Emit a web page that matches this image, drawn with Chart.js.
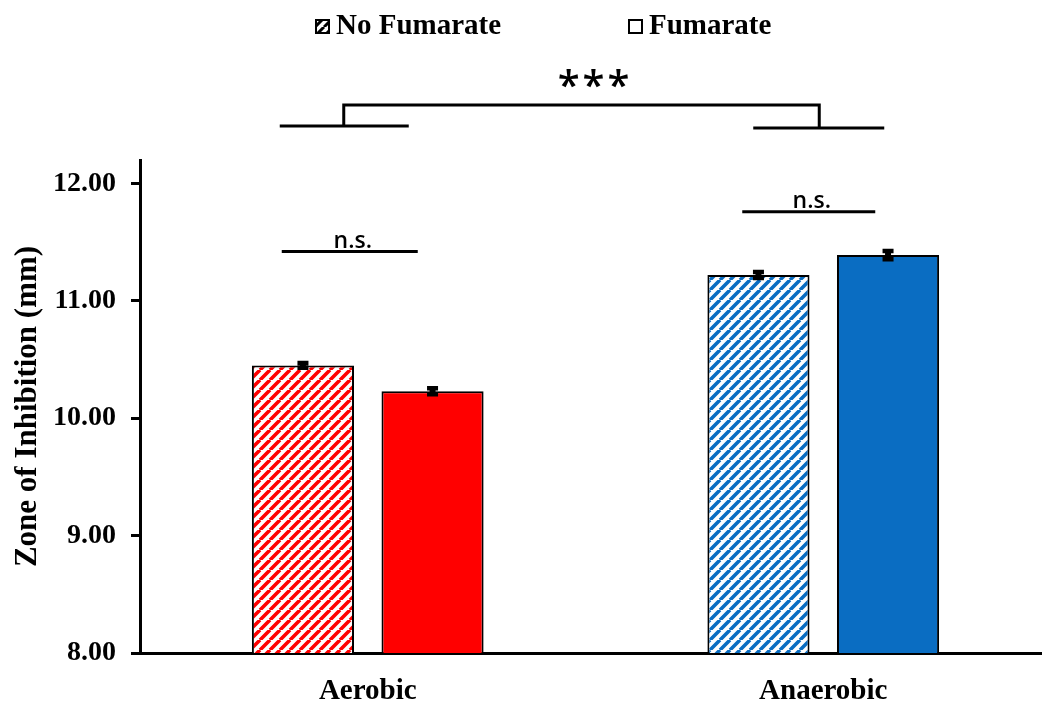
<!DOCTYPE html>
<html>
<head>
<meta charset="utf-8">
<script src="https://cdn.jsdelivr.net/npm/chart.js@4.4.0/dist/chart.umd.min.js"></script>
<style>
  html, body { margin: 0; padding: 0; background: #fff; overflow: hidden; }
  #wrap { width: 1042px; height: 704px; overflow: hidden; }
</style>
</head>
<body>
<div id="wrap"><canvas id="chart" width="1052" height="704"></canvas></div>
<script>
// datos del gráfico
const categories = ['Aerobic', 'Anaerobic'];
const seriesNames = ['No Fumarate', 'Fumarate'];
const noFumarate = [10.45, 11.22];
const fumarate = [10.23, 11.39];
const noFumarateErr = [0.02, 0.025];
const fumarateErr = [0.025, 0.035];
const yTicks = [8, 9, 10, 11, 12];

const RED = '#FF0000';
const BLUE = '#0A6DC2';

// patrón de rayas diagonales
function stripes(color, size, width) {
    const c = document.createElement('canvas');
    c.width = size; c.height = size;
    const g = c.getContext('2d');
    g.fillStyle = '#fff';
    g.fillRect(0, 0, size, size);
    g.strokeStyle = color;
    g.lineWidth = width;
    g.beginPath();
    for (const x0 of [-size, 0, size]) {
        g.moveTo(x0, size);
        g.lineTo(x0 + size, 0);
    }
    g.stroke();
    return g.createPattern(c, 'repeat');
}

const ctx = document.getElementById('chart').getContext('2d');
const redHatch = stripes(RED, 10, 3.6);
const blueHatch = stripes(BLUE, 10, 3.6);
const blackHatch = stripes('#000', 9, 3);

// barras de error
const errorBars = {
    id: 'errorBars',
    afterDatasetsDraw(chart) {
        const y = chart.scales.y;
        const c = chart.ctx;
        c.save();
        c.strokeStyle = '#000';
        chart.data.datasets.forEach((ds, di) => {
            const meta = chart.getDatasetMeta(di);
            meta.data.forEach((bar, i) => {
                const v = ds.data[i], e = ds.errors[i];
                const top = y.getPixelForValue(v + e);
                const bot = y.getPixelForValue(v - e);
                c.lineWidth = 6;
                c.beginPath();
                c.moveTo(bar.x, top); c.lineTo(bar.x, bot);
                c.stroke();
                c.lineWidth = 4.5;
                c.beginPath();
                c.moveTo(bar.x - 5.5, top); c.lineTo(bar.x + 5.5, top);
                c.moveTo(bar.x - 5.5, bot); c.lineTo(bar.x + 5.5, bot);
                c.stroke();
            });
        });
        c.restore();
    }
};

// leyenda, corchetes y textos de significancia
const annotations = {
    id: 'annotations',
    afterDraw(chart) {
        const c = chart.ctx;
        const x = chart.scales.x, y = chart.scales.y;
        const cx0 = x.getPixelForValue(0), cx1 = x.getPixelForValue(1);
        c.save();

        // leyenda
        c.font = 'bold 29px "Liberation Serif", "Times New Roman", serif';
        c.textBaseline = 'alphabetic';
        c.textAlign = 'left';
        c.fillStyle = blackHatch;
        c.fillRect(316, 20, 13, 13);
        c.strokeStyle = '#000';
        c.lineWidth = 2;
        c.strokeRect(316, 20, 13, 13);
        c.fillStyle = '#000';
        c.fillText(seriesNames[0], 336, 34);
        c.strokeRect(629, 20, 13, 13);
        c.fillText(seriesNames[1], 649, 34);

        c.strokeStyle = '#000';
        c.lineWidth = 3;
        c.lineCap = 'butt';
        // n.s.
        const ns = [[cx0 - 86, cx0 + 50, y.getPixelForValue(11.42)],
                    [cx1 - 81, cx1 + 52, y.getPixelForValue(11.76)]];
        c.font = '600 23px "Open Sans", sans-serif';
        c.textAlign = 'center';
        ns.forEach(([a, b, yy]) => {
            c.beginPath(); c.moveTo(a, yy); c.lineTo(b, yy); c.stroke();
            c.fillText('n.s.', (a + b) / 2 + 3, yy - 4);
        });

        // corchete ***
        const yl = y.getPixelForValue(12.49), yr = y.getPixelForValue(12.473), yt = y.getPixelForValue(12.668);
        const xl = cx0 - 24, xr = cx1 - 4;
        c.beginPath();
        c.moveTo(cx0 - 88, yl); c.lineTo(cx0 + 41, yl);
        c.moveTo(cx1 - 70, yr); c.lineTo(cx1 + 61, yr);
        c.moveTo(xl, yl); c.lineTo(xl, yt); c.lineTo(xr, yt); c.lineTo(xr, yr);
        c.stroke();
        c.font = '600 40px "Open Sans", sans-serif';
        c.letterSpacing = '3px';
        c.fillText('***', 595, 99);
        c.restore();
    }
};

new Chart(ctx, {
    type: 'bar',
    data: {
        labels: categories,
        datasets: [{
            label: seriesNames[0],
            data: noFumarate,
            errors: noFumarateErr,
            backgroundColor: [redHatch, blueHatch],
            borderColor: '#000',
            borderWidth: 2,
            borderSkipped: false,
            categoryPercentage: 0.569,
            barPercentage: 0.788
        }, {
            label: seriesNames[1],
            data: fumarate,
            errors: fumarateErr,
            backgroundColor: [RED, BLUE],
            borderColor: '#000',
            borderWidth: 2,
            borderSkipped: false,
            categoryPercentage: 0.569,
            barPercentage: 0.788
        }]
    },
    options: {
        responsive: false,
        animation: false,
        devicePixelRatio: 1,
        layout: { padding: { top: 160, left: 0, right: 1, bottom: 0 } },
        plugins: {
            legend: { display: false },
            tooltip: { enabled: false }
        },
        scales: {
            x: {
                afterFit: (s) => { s.height = 51; },
                grid: { display: false, drawTicks: false },
                border: { display: true, color: '#000', width: 3 },
                ticks: {
                    color: '#000',
                    padding: 21,
                    font: { family: '"Liberation Serif", "Times New Roman", serif', size: 29, weight: 'bold' }
                }
            },
            y: {
                min: 8,
                max: 12.2,
                afterFit: (s) => { s.width = 140; },
                afterBuildTicks: (s) => { s.ticks = yTicks.map(v => ({ value: v })); },
                grid: { drawOnChartArea: false, drawTicks: true, tickLength: 9, color: '#000', lineWidth: 3 },
                border: { display: true, color: '#000', width: 3 },
                ticks: {
                    color: '#000',
                    padding: 15,
                    callback: (v) => Number(v).toFixed(2),
                    font: { family: '"Liberation Serif", "Times New Roman", serif', size: 28, weight: 'bold' }
                },
                title: {
                    display: true,
                    text: 'Zone of Inhibition (mm)',
                    color: '#000',
                    padding: { top: 9, bottom: 0 },
                    font: { family: '"Liberation Serif", "Times New Roman", serif', size: 31, weight: 'bold' }
                }
            }
        }
    },
    plugins: [errorBars, annotations]
});
</script>
</body>
</html>
